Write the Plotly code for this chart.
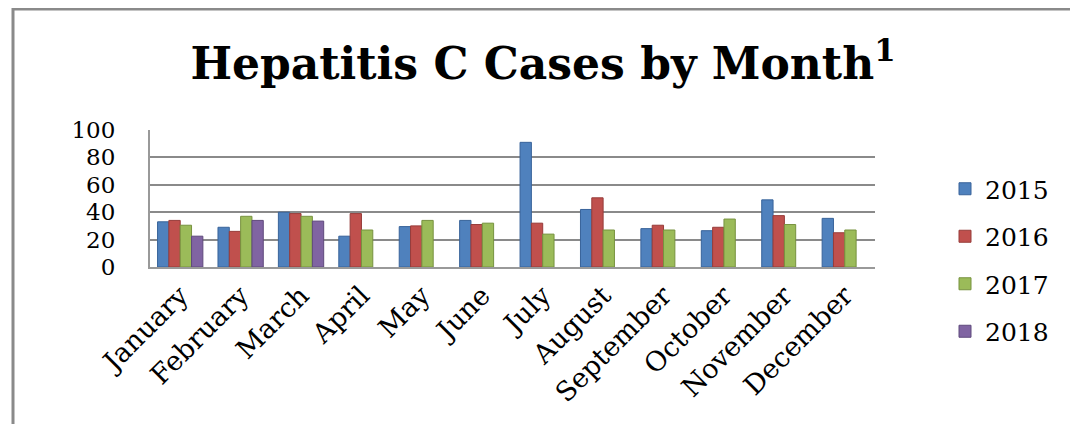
import plotly.graph_objects as go

months = ["January", "February", "March", "April", "May", "June", "July",
          "August", "September", "October", "November", "December"]
cases_2015 = [33, 29, 40, 22.5, 29.5, 34, 91, 42, 28, 26.5, 49, 35.5]
cases_2016 = [34, 26, 39, 39, 30, 31, 32, 50.5, 30.5, 29, 37.5, 25]
cases_2017 = [30.5, 37, 37, 27, 34, 32, 24, 27, 27, 35, 31, 27]
cases_2018 = [22.5, 34, 33.5, None, None, None, None, None, None, None, None, None]

years = ["2015", "2016", "2017", "2018"]
colors = ["#4F81BD", "#C0504D", "#9BBB59", "#8064A2"]
edges = ["#38639A", "#973C3A", "#77923F", "#5F4A7C"]

# page body adds an 8px offset, so the figure is a bit smaller than the window
OFF = 8
W, H = 1078 - OFF, 424 - OFF
L, R, T, B = 150 - OFF, 203, 130 - OFF, 157
pw, ph = W - L - R, H - T - B

fig = go.Figure()
for name, vals, c, e in zip(years, [cases_2015, cases_2016, cases_2017, cases_2018], colors, edges):
    fig.add_trace(go.Bar(x=months, y=vals, name=name, legendgroup=name,
                         marker=dict(color=c, line=dict(color=e, width=1))))


def px_x(x):
    return (x - OFF - L) / pw


def px_y(y):
    return (H - B - (y - OFF)) / ph


fig.update_layout(
    width=W, height=H,
    margin=dict(l=L, r=R, t=T, b=B, autoexpand=False),
    paper_bgcolor="white", plot_bgcolor="white",
    barmode="group", bargap=0.25,
    font=dict(family="DejaVu Serif", color="black"),
    title=dict(text="<b>Hepatitis C Cases by Month<sup>1</sup></b>",
               font=dict(size=44, family="DejaVu Serif"),
               x=0.5, xanchor="center", y=1 - (64 - OFF) / H, yanchor="middle"),
    legend=dict(xref="container", yref="container",
                x=(945 - OFF) / W, xanchor="left", y=1 - (166 - OFF) / H, yanchor="top",
                font=dict(size=25), tracegroupgap=12, itemwidth=30,
                maxheight=300),
    showlegend=True,
    shapes=[dict(type="path", xref="paper", yref="paper",
                 path=f"M {px_x(13)},-2 L {px_x(13)},{px_y(9)} L {px_x(1074)},{px_y(9)} L {px_x(1074)},-2",
                 line=dict(color="#8A8A8A", width=3))],
)
fig.update_xaxes(tickangle=-45, tickfont=dict(size=27), showline=True,
                 linecolor="#999999", linewidth=2, ticks="", automargin=False)
fig.update_yaxes(range=[0, 100], dtick=20, tickfont=dict(size=23),
                 gridcolor="#8A8A8A", gridwidth=2, showline=True,
                 linecolor="#999999", linewidth=2, ticklabelstandoff=28,
                 zeroline=False, automargin=False)

fig.write_html("out.html")
